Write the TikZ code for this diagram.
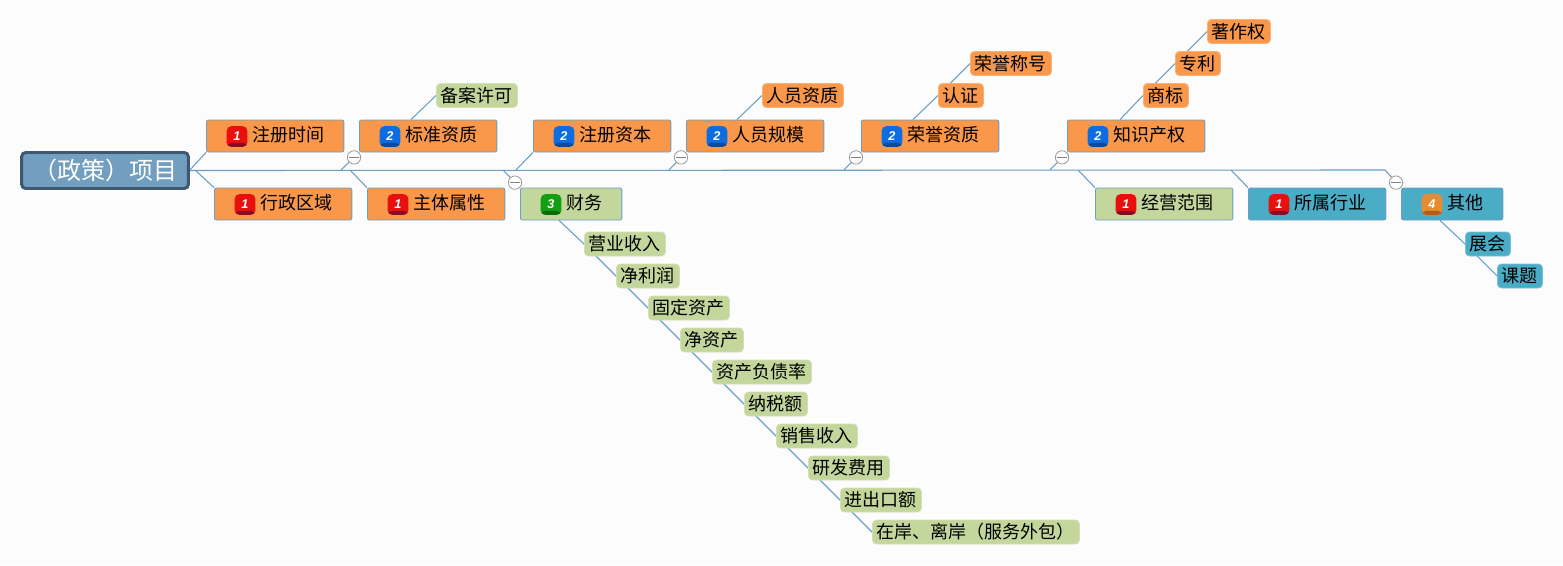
\documentclass[tikz,border=0pt]{standalone}
\usepackage{fontspec}
\setmainfont{Noto Sans CJK SC}
\newfontfamily\badgefont{Liberation Sans}
\usepackage{xcolor}
\definecolor{pageback}{HTML}{FCFCFC}
\definecolor{mmline}{HTML}{6A9FC6}
\definecolor{mmorange}{HTML}{F9974A}
\definecolor{mmgreen}{HTML}{C3D69B}
\definecolor{mmteal}{HTML}{4BACC6}
\definecolor{rootfill}{HTML}{729FC0}
\definecolor{rootedge}{HTML}{3F5870}
\definecolor{prio1top}{HTML}{E8100F}
\definecolor{prio1low}{HTML}{8A0A25}
\definecolor{prio2top}{HTML}{0D6DE0}
\definecolor{prio2low}{HTML}{0A4A9C}
\definecolor{prio3top}{HTML}{12A012}
\definecolor{prio3low}{HTML}{0B680B}
\definecolor{prio4top}{HTML}{E88A30}
\definecolor{prio4low}{HTML}{B85A10}
\usepackage{tikz}
\usetikzlibrary{backgrounds, calc}
\tikzset{
    rootnode/.style = {rectangle, rounded corners=3pt, draw=rootedge, line width=2.2pt,
                       fill=rootfill, text=white, font=\fontsize{18}{20}\selectfont,
                       minimum width=125pt, minimum height=27pt, inner sep=0pt},
    topic/.style = {rectangle, rounded corners=1.5pt, draw=mmline, line width=0.6pt,
                    anchor=west, minimum height=24pt, inner xsep=14.9pt, inner ysep=0pt,
                    font=\fontsize{13.5}{15}\selectfont},
    leaf/.style = {rectangle, rounded corners=3pt, draw=#1!75!white, fill=#1, line width=0.6pt,
                   anchor=west, minimum height=18pt, inner xsep=3.4pt, inner ysep=0pt,
                   font=\fontsize{13.5}{15}\selectfont},
    badge/.style = {rectangle, rounded corners=3.5pt, minimum size=15.5pt, inner sep=0pt,
                    fill=prio#1top, text=white,
                    font=\badgefont\fontsize{9.5}{10}\selectfont\bfseries\itshape,
                    path picture={
                        \fill[prio#1low] ([yshift=3pt]path picture bounding box.south west)
                            rectangle (path picture bounding box.south east);
                    }},
    collapse/.style = {circle, draw=gray!80, fill=white, line width=0.6pt,
                       minimum size=10pt, inner sep=0pt,
                       path picture={
                           \draw[gray, line width=0.5pt] ([xshift=1.5pt]path picture bounding box.west)
                               -- ([xshift=-1.5pt]path picture bounding box.east);
                       }},
    branch/.style = {draw=mmline, line width=0.8pt},
}
\begin{document}
\begin{tikzpicture}[x=0.75pt, y=-0.75pt]
        \useasboundingbox (0,0) rectangle (1563,565);
        \node[rootnode] (root) at (105,170.5) {\raisebox{0.8pt}{（政策）项目}};
        % Topics with their priority badge
        \foreach \name/\xpos/\ypos/\col/\num/\txt in {
              zhuce/206/136/mmorange/1/注册时间, biaozhun/359/136/mmorange/2/标准资质,
              ziben/533/136/mmorange/2/注册资本, guimo/686/136/mmorange/2/人员规模,
              rongyu/861/136/mmorange/2/荣誉资质, zhishi/1067/136/mmorange/2/知识产权,
              xingzheng/214/204/mmorange/1/行政区域, zhuti/367/204/mmorange/1/主体属性,
              caiwu/520/204/mmgreen/3/财务, fanwei/1095/204/mmgreen/1/经营范围,
              hangye/1248/204/mmteal/1/所属行业, qita/1401/204/mmteal/4/其他} {
            \node[topic, fill=\col] (\name) at (\xpos,\ypos) {\hspace*{19.3pt}\raisebox{3.5pt}{\txt}};
            \node[badge=\num] (\name badge) at ([shift={(31,0.5)}]\name.west) {\raisebox{1pt}{\num}};
        }
        % Leaves, up and down the chains
        \foreach \name/\xpos/\ypos/\col/\txt in {
              beian/436/95.5/mmgreen/备案许可, zizhi/762/95.5/mmorange/人员资质,
              renzheng/938/95.5/mmorange/认证, chenghao/970/63.5/mmorange/荣誉称号,
              shangbiao/1143/95.5/mmorange/商标, zhuanli/1175/63.5/mmorange/专利,
              zhuzuo/1207/31.5/mmorange/著作权,
              yingye/584/244/mmgreen/营业收入, jinglirun/616/276/mmgreen/净利润,
              guding/648/308/mmgreen/固定资产, jingzichan/680/340/mmgreen/净资产,
              fuzhai/712/372/mmgreen/资产负债率, nashui/744/404/mmgreen/纳税额,
              xiaoshou/776/436/mmgreen/销售收入, yanfa/808/468/mmgreen/研发费用,
              jinchukou/840/500/mmgreen/进出口额, zaian/872/532/mmgreen/在岸、离岸（服务外包）,
              zhanhui/1465/244/mmteal/展会, keti/1497/276/mmteal/课题} {
            \node[leaf=\col] (\name) at (\xpos,\ypos) {\raisebox{1pt}{\txt}};
        }
        % Collapse marks
        \foreach \name/\dy/\ancr in {biaozhun/5/south west, guimo/5/south west, rongyu/5/south west,
              zhishi/5/south west, caiwu/-5/north west, qita/-5/north west} {
            \node[collapse] (\name mark) at ([shift={(-5,\dy)}]\name.\ancr) {};
        }
        \begin{pgfonlayer}{background}
            \fill[pageback] (0,0) rectangle (1563,565);
            % Main line
            \coordinate (mainknee) at (1385,170);
            \draw[branch] (root.east) -- (mainknee) -- (qita.north west);
            % Branches off the main line
            \foreach \name/\xpos/\ancr in {zhuce/190/south west, biaozhun/341/south west,
                  ziben/516/south west, guimo/669/south west, rongyu/844/south west,
                  zhishi/1050/south west, xingzheng/195/north west, zhuti/350/north west,
                  caiwu/503/north west, fanwei/1078/north west, hangye/1231/north west} {
                \coordinate (\name foot) at (\xpos,170);
                \draw[branch] (\name foot) -- (\name.\ancr);
            }
            % Leaf chains
            \draw[branch] ([shift={(52,0)}]biaozhun.north west) -- (beian.west);
            \draw[branch] ([shift={(51,0)}]guimo.north west) -- (zizhi.west);
            \draw[branch] ([shift={(52,0)}]rongyu.north west) -- (renzheng.west) -- (chenghao.west);
            \draw[branch] ([shift={(53,0)}]zhishi.north west) -- (shangbiao.west) -- (zhuanli.west) -- (zhuzuo.west);
            \draw[branch] ([shift={(39,0)}]caiwu.south west) -- (yingye.west) -- (jinglirun.west)
                  -- (guding.west) -- (jingzichan.west) -- (fuzhai.west) -- (nashui.west)
                  -- (xiaoshou.west) -- (yanfa.west) -- (jinchukou.west) -- (zaian.west);
            \draw[branch] ([shift={(39,0)}]qita.south west) -- (zhanhui.west) -- (keti.west);
        \end{pgfonlayer}
      \end{tikzpicture}
\end{document}
